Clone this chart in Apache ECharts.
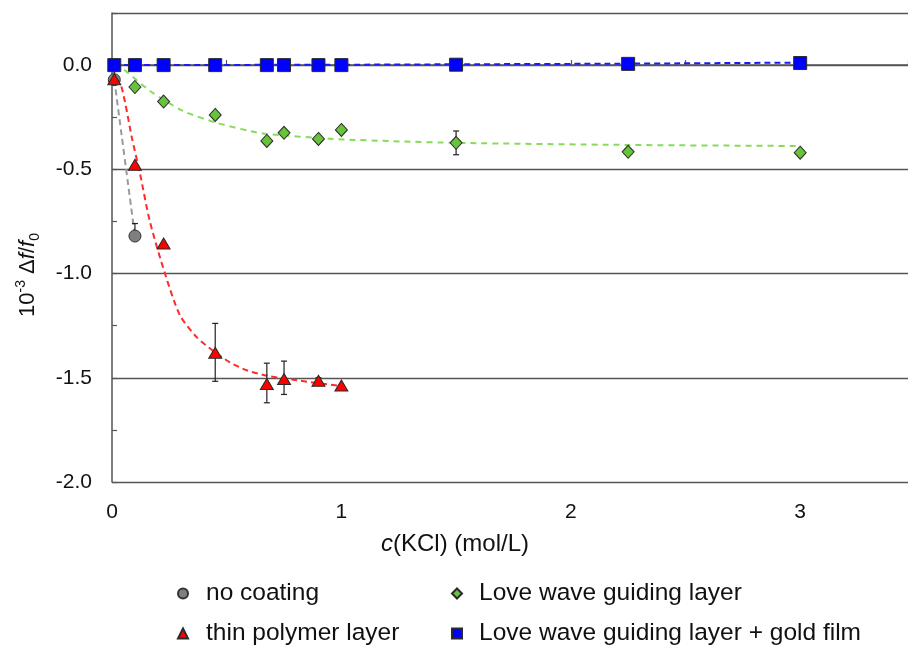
<!DOCTYPE html>
<html>
<head>
<meta charset="utf-8">
<script src="https://cdn.jsdelivr.net/npm/echarts@6.0.0/dist/echarts.min.js"></script>
<style>
html,body{margin:0;padding:0;background:#fff;}
#chart{width:908px;height:646px;}
</style>
</head>
<body>
<div id="chart"></div>
<script>
// ---- data ----
const seriesNames = ['no coating', 'thin polymer layer', 'Love wave guiding layer', 'Love wave guiding layer + gold film'];

const noCoatingX = [0.01, 0.1];
const noCoatingY = [-0.07, -0.82];

const polymerX = [0.01, 0.1, 0.225, 0.45, 0.675, 0.75, 0.9, 1.0];
const polymerY = [-0.068, -0.478, -0.856, -1.38, -1.53, -1.506, -1.514, -1.537];

const loveX = [0.01, 0.1, 0.225, 0.45, 0.675, 0.75, 0.9, 1.0, 1.5, 2.25, 3.0];
const loveY = [-0.005, -0.105, -0.175, -0.239, -0.364, -0.325, -0.354, -0.311, -0.373, -0.416, -0.42];

const goldX = [0.01, 0.1, 0.225, 0.45, 0.675, 0.75, 0.9, 1.0, 1.5, 2.25, 3.0];
const goldY = [0, 0, 0, 0, 0, 0, 0, 0, 0.002, 0.006, 0.01];

// dashed fit curves
const noCoatingFitX = [0.01, 0.1];
const noCoatingFitY = [-0.07, -0.82];

const polymerFitX = [0.01, 0.04, 0.087, 0.122, 0.165, 0.231, 0.296, 0.37, 0.44, 0.514, 0.587, 0.675, 0.806, 1.0];
const polymerFitY = [-0.07, -0.1, -0.35, -0.52, -0.75, -1.0, -1.2, -1.306, -1.37, -1.426, -1.464, -1.49, -1.512, -1.54];

const loveFitX = [0.01, 0.05, 0.166, 0.31, 0.457, 0.6, 0.675, 0.963, 1.255, 1.5, 2.25, 3.0];
const loveFitY = [0.0, -0.02, -0.124, -0.22, -0.277, -0.316, -0.33, -0.354, -0.366, -0.373, -0.383, -0.388];

const goldFitX = [0.01, 1.0, 1.5, 2.25, 3.0];
const goldFitY = [0.0, 0.002, 0.004, 0.007, 0.012];

// error bars
const errX    = [0.1,   0.45,   0.675, 0.75,  0.9,    1.5];
const errLow  = [-0.82, -1.517, -1.62, -1.58, -1.525, -0.43];
const errHigh = [-0.76, -1.239, -1.43, -1.42, -1.50,  -0.316];

// axis ticks
const xTickLabels = ['0', '1', '2', '3'];
const yTickLabels = ['0.0', '-0.5', '-1.0', '-1.5', '-2.0'];

// ---- build ----
const zip = (xs, ys) => xs.map((x, i) => [x, ys[i]]);
const FONT = 'Liberation Sans, Arial, Helvetica, sans-serif';

const chart = echarts.init(document.getElementById('chart'), null, {renderer: 'canvas'});

function fitLine(name, xs, ys, color, dash, z) {
  return {
    type: 'line', name: name + ' fit', data: zip(xs, ys), showSymbol: false, symbol: 'none',
    smooth: 0.25, silent: true, z: z, legendHoverLink: false,
    lineStyle: {color: color, width: 2, type: dash}
  };
}

const legendText = {fontFamily: FONT, fontSize: 24.5, color: '#111', lineHeight: 24};

const option = {
  backgroundColor: '#ffffff',
  animation: false,
  grid: {left: 112, top: 13, right: 0, bottom: 164, outerBoundsMode: 'none', containLabel: false},
  xAxis: {
    type: 'value', min: 0, max: 3.47, interval: 0.5,
    axisLine: {show: true, lineStyle: {color: '#555', width: 1.5}},
    axisTick: {show: true, inside: true, length: 5, lineStyle: {color: '#555', width: 1.2}},
    axisLabel: {
      show: true, margin: 20, fontFamily: FONT, fontSize: 21, color: '#111',
      showMaxLabel: true, showMinLabel: true,
      formatter: function (v) {
        const r = Math.round(v);
        if (Math.abs(v - r) < 1e-9 && r >= 0 && r < xTickLabels.length) return xTickLabels[r];
        return '';
      }
    },
    splitLine: {show: false}
  },
  yAxis: [{
    type: 'value', min: -2, max: 0.25, interval: 0.25,
    axisLine: {show: true, onZero: false, lineStyle: {color: '#555', width: 1.5}},
    axisTick: {show: true, inside: true, length: 5, lineStyle: {color: '#555', width: 1.2}},
    axisLabel: {
      show: true, margin: 20, fontFamily: FONT, fontSize: 21, color: '#111',
      showMaxLabel: true, showMinLabel: true,
      formatter: function (v) {
        const k = Math.round(-v * 2);
        if (Math.abs(-v * 2 - k) < 1e-9 && k >= 0 && k < yTickLabels.length) return yTickLabels[k];
        return '';
      }
    },
    splitLine: {show: false}
  }, {
    type: 'value', min: -2, max: 0.25, interval: 0.5, position: 'left',
    axisLine: {show: false}, axisTick: {show: false}, axisLabel: {show: false},
    splitLine: {show: true, lineStyle: {color: '#555', width: 1.3}}
  }],
  legend: [{
    left: 177, top: 581, orient: 'vertical', padding: 0, itemWidth: 10, itemHeight: 10, itemGap: 15,
    data: [
      {name: seriesNames[0], icon: 'circle'},
      {name: seriesNames[1], icon: 'triangle'}
    ],
    textStyle: Object.assign({padding: [0, 0, 0, 13]}, legendText),
    selectedMode: false
  }, {
    left: 451, top: 581, orient: 'vertical', padding: 0, itemWidth: 10, itemHeight: 10, itemGap: 15,
    data: [
      {name: seriesNames[2], icon: 'diamond'},
      {name: seriesNames[3], icon: 'rect'}
    ],
    textStyle: Object.assign({padding: [0, 0, 0, 12]}, legendText),
    selectedMode: false
  }],
  graphic: [{
    type: 'text', x: 28, y: 275, rotation: Math.PI / 2,
    style: {
      text: '{a|10}{sup|-3}{a| Δ}{i|f}{a|/}{i|f}{sub|0}',
      align: 'center', verticalAlign: 'middle', fill: '#111',
      font: '22px ' + FONT,
      rich: {
        a: {fontFamily: FONT, fontSize: 22, lineHeight: 28, fill: '#111'},
        i: {fontFamily: FONT, fontSize: 22, lineHeight: 28, fontStyle: 'italic', fill: '#111'},
        sup: {fontFamily: FONT, fontSize: 14, lineHeight: 16, verticalAlign: 'top', fill: '#111'},
        sub: {fontFamily: FONT, fontSize: 14, lineHeight: 14, verticalAlign: 'bottom', fill: '#111'}
      }
    }
  }, {
    type: 'text', x: 455, y: 544,
    style: {
      text: '{it|c}{a|(KCl) (mol/L)}',
      align: 'center', verticalAlign: 'middle', fill: '#111',
      font: '24px ' + FONT,
      rich: {
        a: {fontFamily: FONT, fontSize: 24, fill: '#111'},
        it: {fontFamily: FONT, fontSize: 24, fontStyle: 'italic', fill: '#111'}
      }
    }
  }],
  series: [
    fitLine(seriesNames[0], noCoatingFitX, noCoatingFitY, '#9a9a9a', [6, 4], 2),
    fitLine(seriesNames[1], polymerFitX, polymerFitY, '#ff2a2a', [6, 4], 2),
    fitLine(seriesNames[2], loveFitX, loveFitY, '#86dc5a', [6, 5], 2),
    fitLine(seriesNames[3], goldFitX, goldFitY, '#1a1aff', [6, 4], 2),
    {
      type: 'custom', name: 'error bars', silent: true, z: 3,
      data: errX.map((x, i) => [x, errLow[i], errHigh[i]]),
      encode: {x: 0, y: [1, 2]},
      renderItem: function (params, api) {
        const x = api.value(0);
        const p1 = api.coord([x, api.value(1)]);
        const p2 = api.coord([x, api.value(2)]);
        const st = {stroke: '#222', lineWidth: 1.2};
        const cw = 3;
        return {
          type: 'group', children: [
            {type: 'line', shape: {x1: p1[0], y1: p1[1], x2: p2[0], y2: p2[1]}, style: st},
            {type: 'line', shape: {x1: p1[0] - cw, y1: p1[1], x2: p1[0] + cw, y2: p1[1]}, style: st},
            {type: 'line', shape: {x1: p2[0] - cw, y1: p2[1], x2: p2[0] + cw, y2: p2[1]}, style: st}
          ]
        };
      }
    },
    {
      type: 'scatter', name: seriesNames[0], data: zip(noCoatingX, noCoatingY), z: 4,
      symbol: 'circle', symbolSize: 12,
      itemStyle: {color: '#7f7f7f', borderColor: '#333', borderWidth: 1, opacity: 1}
    },
    {
      type: 'scatter', name: seriesNames[2], data: zip(loveX, loveY), z: 5,
      symbol: 'diamond', symbolSize: [12, 13],
      itemStyle: {color: '#66c33a', borderColor: '#2a2a2a', borderWidth: 1, opacity: 1}
    },
    {
      type: 'scatter', name: seriesNames[1], data: zip(polymerX, polymerY), z: 6,
      symbol: 'triangle', symbolSize: [13, 11],
      itemStyle: {color: '#ff0000', borderColor: '#2a2a2a', borderWidth: 1, opacity: 1}
    },
    {
      type: 'scatter', name: seriesNames[3], data: zip(goldX, goldY), z: 7,
      symbol: 'rect', symbolSize: 13,
      itemStyle: {color: '#0000ff', borderColor: '#2a2a2a', borderWidth: 1, opacity: 1}
    }
  ]
};
chart.setOption(option);
</script>
</body>
</html>
